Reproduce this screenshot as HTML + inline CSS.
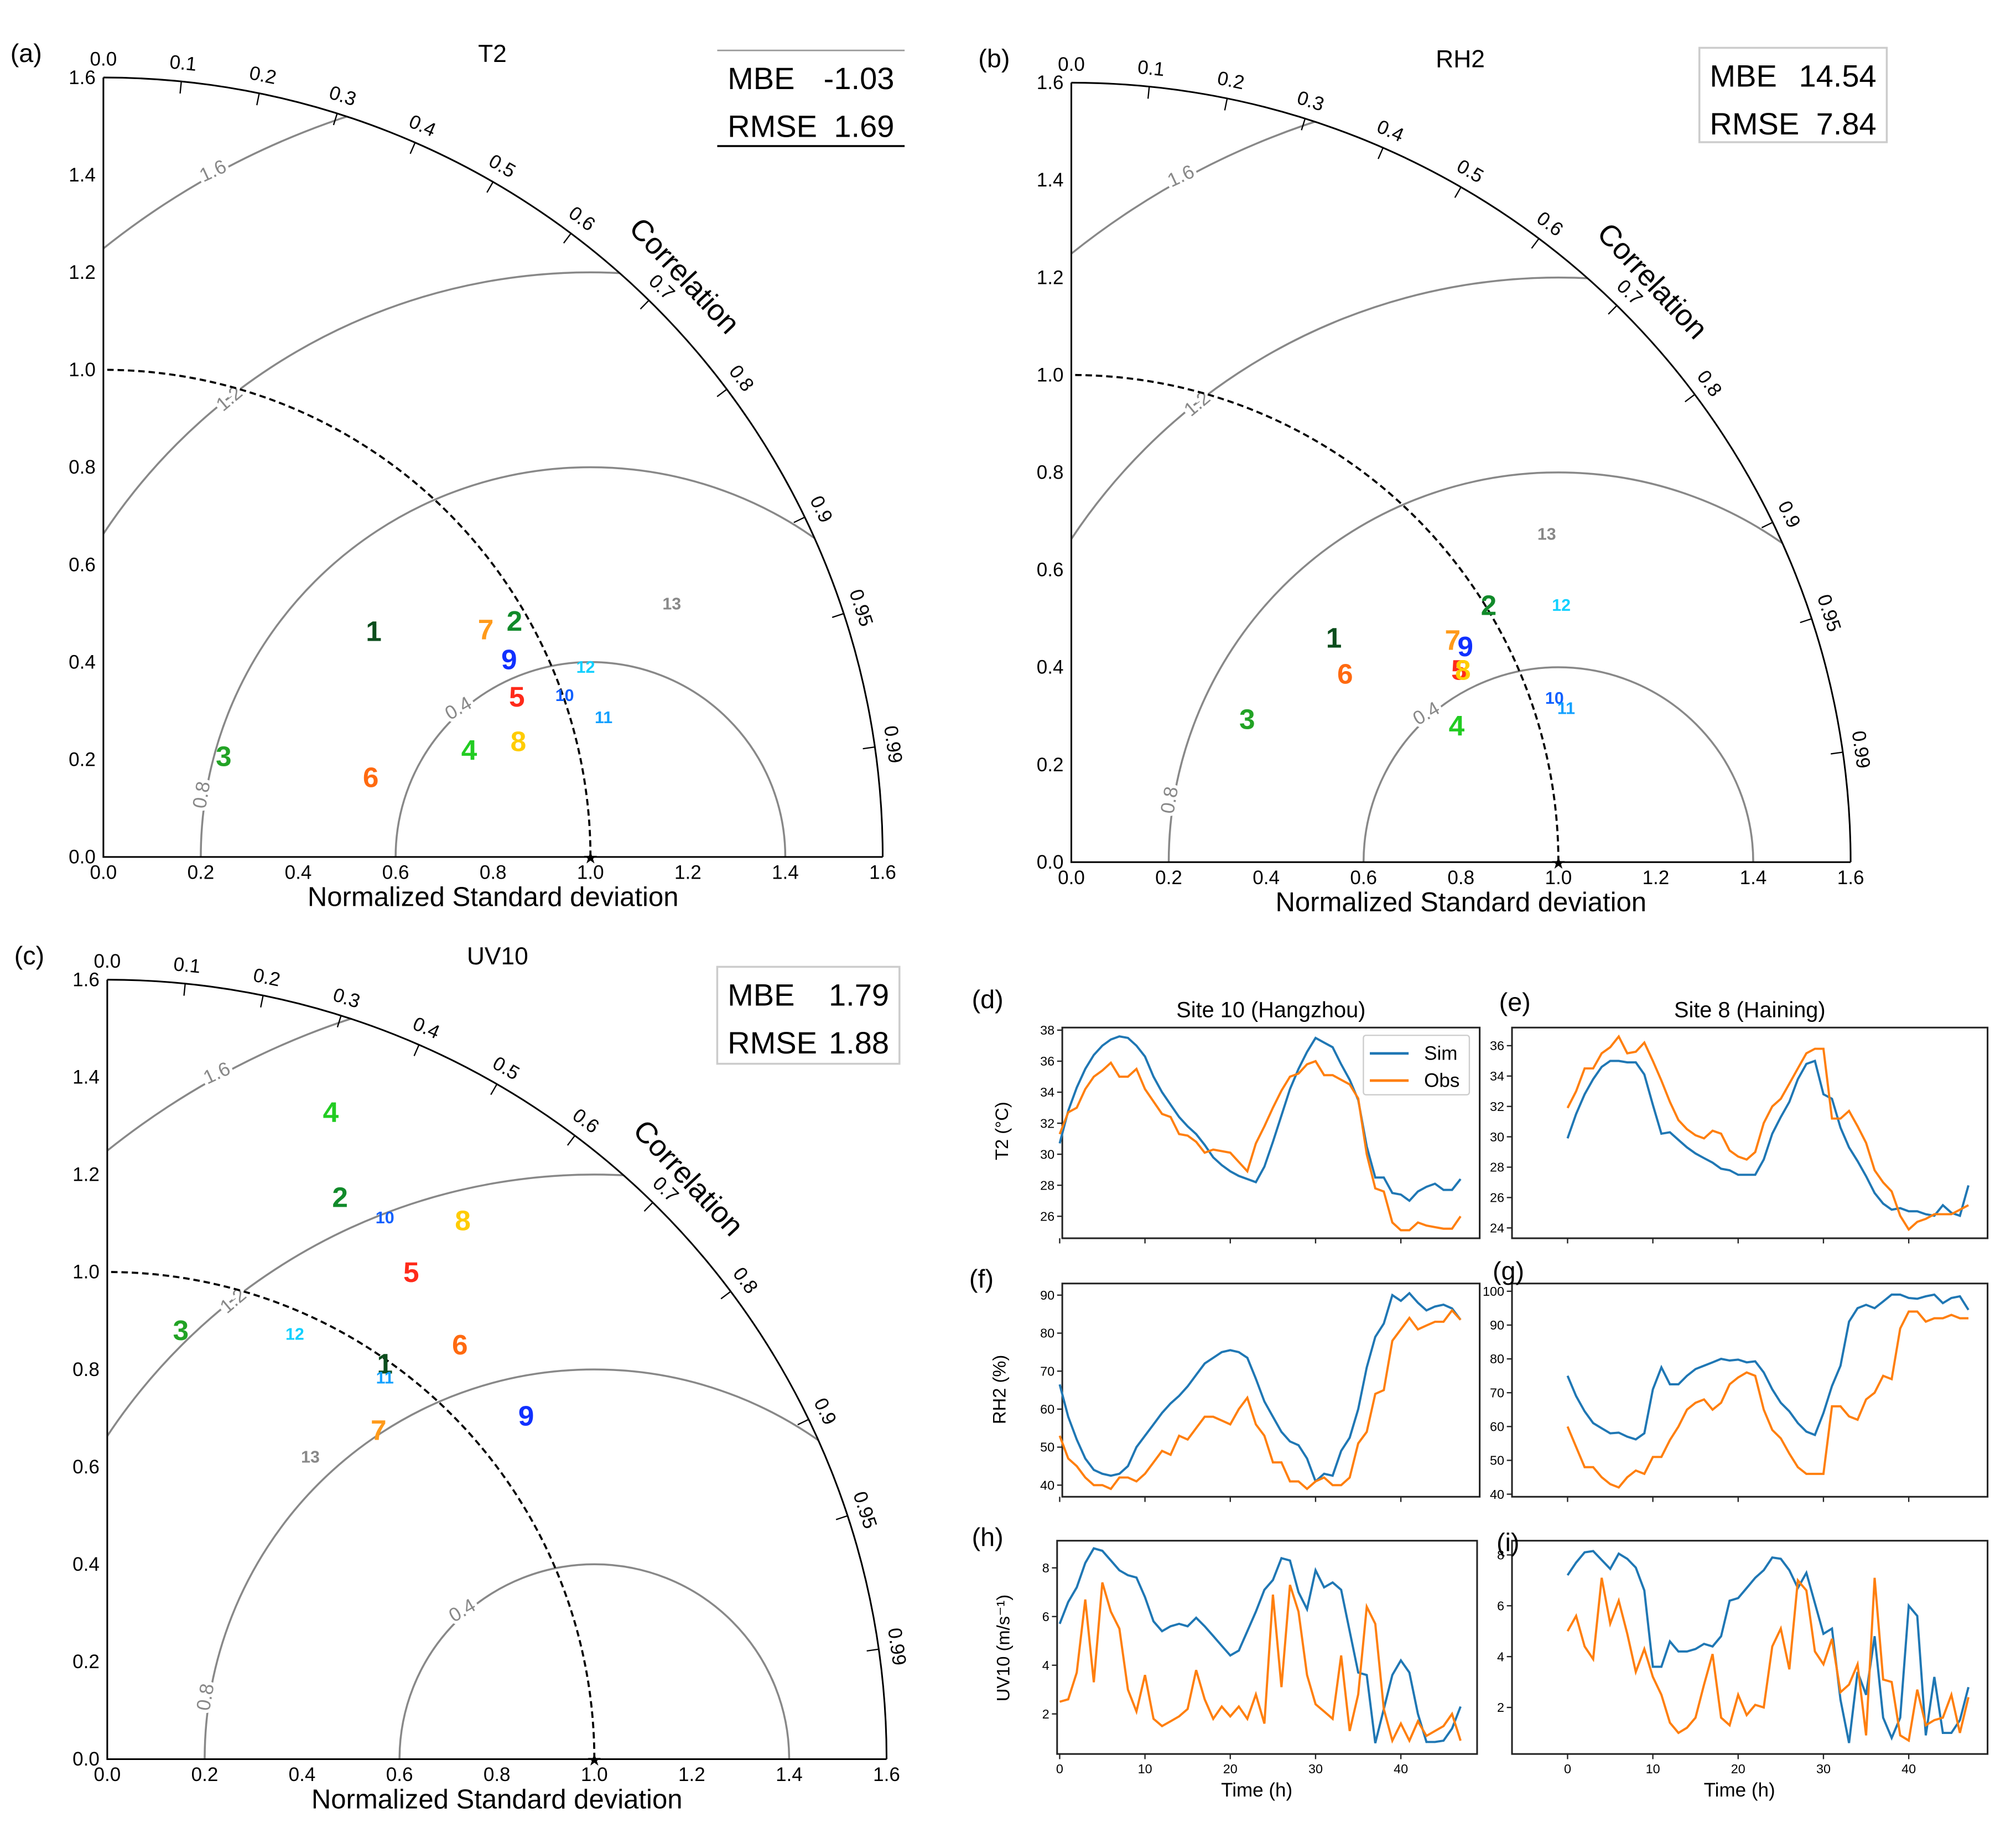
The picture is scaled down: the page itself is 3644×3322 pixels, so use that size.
<!DOCTYPE html>
<html><head><meta charset="utf-8">
<style>
html,body{margin:0;padding:0;background:#fff;overflow:hidden;width:3644px;height:3322px;}
svg{display:block;font-family:"Liberation Sans",sans-serif;}
</style></head>
<body>
<svg id="fig" width="3644" height="3322" viewBox="0 0 1560 1422" preserveAspectRatio="none" xmlns="http://www.w3.org/2000/svg">
<defs>
<clipPath id="qclip"><path d="M0,0 L603,0 A603,603 0 0 0 0,-603 Z"/></clipPath>
</defs>
</svg>
<script>
// ---------- Taylor diagram data ----------
const siteLabels = ['1','2','3','4','5','6','7','8','9','10','11','12','13'];
const siteColors = ['#0b4d1c','#118a2a','#22a325','#22cc22','#ff2a1a','#ff6a10','#ff9a1a','#ffcc00','#1030ff','#1060ff','#10a0ff','#10d0ff','#888888'];
const t2X = [0.555,0.844,0.247,0.751,0.849,0.549,0.785,0.852,0.833,0.947,1.027,0.990,1.167];
const t2Y = [0.459,0.480,0.202,0.215,0.324,0.159,0.462,0.233,0.401,0.329,0.284,0.387,0.517];
const rhX = [0.539,0.857,0.361,0.791,0.796,0.562,0.783,0.804,0.809,0.992,1.016,1.006,0.976];
const rhY = [0.456,0.523,0.289,0.276,0.390,0.382,0.451,0.390,0.438,0.334,0.313,0.525,0.671];
const uvX = [0.570,0.478,0.151,0.459,0.624,0.724,0.557,0.730,0.860,0.570,0.570,0.385,0.417];
const uvY = [0.807,1.149,0.876,1.324,0.995,0.846,0.671,1.101,0.700,1.109,0.780,0.870,0.618];
const stdTicks = [0.0,0.2,0.4,0.6,0.8,1.0,1.2,1.4,1.6];
const corrTicks = [0.0,0.1,0.2,0.3,0.4,0.5,0.6,0.7,0.8,0.9,0.95,0.99];
const rmseLevels = [0.4,0.8,1.2,1.6];
const t2Stats = ['-1.03','1.69'];
const rhStats = ['14.54','7.84'];
const uvStats = ['1.79','1.88'];

// ---------- Time series data ----------
const hours = Array.from({length:48},(_,i)=>i);
const hzT2Sim=[30.7,32.8,34.3,35.5,36.4,37.0,37.4,37.6,37.5,37.0,36.3,35.0,34.0,33.2,32.4,31.8,31.3,30.6,29.8,29.3,28.9,28.6,28.4,28.2,29.2,30.8,32.5,34.2,35.5,36.6,37.5,37.2,36.9,35.8,34.8,33.5,30.5,28.5,28.5,27.5,27.4,27.0,27.6,27.9,28.1,27.7,27.7,28.4];
const hzT2Obs=[31.3,32.7,33.0,34.2,35.0,35.4,35.9,35.0,35.0,35.5,34.2,33.4,32.6,32.4,31.3,31.2,30.8,30.1,30.3,30.2,30.1,29.5,28.9,30.7,31.8,33.0,34.1,35.0,35.2,35.8,36.0,35.1,35.1,34.8,34.5,33.6,30.0,27.8,27.6,25.6,25.1,25.1,25.6,25.4,25.3,25.2,25.2,26.0];
const hnT2Sim=[29.9,31.5,32.8,33.8,34.6,35.0,35.0,34.9,34.9,34.1,32.1,30.2,30.3,29.8,29.3,28.9,28.6,28.3,27.9,27.8,27.5,27.5,27.5,28.5,30.2,31.3,32.3,33.8,34.8,35.0,32.8,32.5,30.6,29.3,28.4,27.4,26.3,25.6,25.2,25.3,25.1,25.1,24.9,24.8,25.5,25.0,24.8,26.8];
const hnT2Obs=[31.9,33.0,34.5,34.5,35.5,35.9,36.6,35.5,35.6,36.2,35.0,33.7,32.3,31.1,30.5,30.1,29.9,30.4,30.2,29.1,28.7,28.5,29.0,30.9,32.0,32.5,33.5,34.5,35.5,35.8,35.8,31.2,31.2,31.7,30.7,29.6,27.8,27.0,26.4,24.8,23.9,24.4,24.6,24.9,24.9,24.9,25.2,25.5];
const hzRhSim=[66.5,58,52,47,44,43,42.5,43,45,50,53,56,59,61.5,63.5,66,69,72,73.5,75,75.5,75,73.5,68,62,58,54,51.5,50.5,47,41,43,42.5,49,52.5,60,71,79,82.5,90,88.5,90.5,88,86,87,87.5,86.5,83.5];
const hzRhObs=[53,47,45,42,40,40,39,42,42,41,43,46,49,48,53,52,55,58,58,57,56,60,63,56,53,46,46,41,41,39,41,42,40,40,42,51,54,64,65,78,81,84,81,82,83,83,86,83.5];
const hnRhSim=[75,69,64.5,61,59.5,58,58.2,57,56.2,58,71,77.5,72.5,72.5,75,77,78,79,80,79.5,79.8,79,79.3,76,71,67,64.5,61,58.5,57.5,64,72,78,91,95,96,95,97,99,99,98,97.8,98.5,99,96.5,98,98.5,94.5];
const hnRhObs=[60,54,48,48,45,43,42,45,47,46,51,51,56,60,65,67,68,65,67,72.5,74.5,76,75,65,59,56.5,52,48,46,46,46,66,66,63,62,68,70,75,74,89,94,94,91,92,92,93,92,92];
const hzUvSim=[5.7,6.6,7.2,8.2,8.8,8.7,8.3,7.9,7.7,7.6,6.8,5.8,5.4,5.6,5.7,5.6,5.95,5.6,5.2,4.8,4.4,4.6,5.4,6.2,7.1,7.5,8.4,8.3,7.0,6.3,7.9,7.2,7.4,7.1,5.4,3.7,3.6,0.8,2.2,3.6,4.2,3.7,2.0,0.85,0.85,0.9,1.4,2.3];
const hzUvObs=[2.5,2.6,3.7,6.7,3.3,7.4,6.2,5.5,3.0,2.1,3.6,1.8,1.5,1.7,1.9,2.2,3.8,2.6,1.8,2.3,1.9,2.3,1.8,2.8,1.6,6.9,3.1,7.3,6.2,3.6,2.4,2.1,1.8,4.4,1.3,2.8,6.4,5.7,2.2,0.9,1.6,0.9,1.7,1.1,1.3,1.5,2.0,0.9];
const hnUvSim=[7.2,7.7,8.1,8.15,7.8,7.45,8.05,7.85,7.5,6.6,3.6,3.6,4.6,4.2,4.2,4.3,4.5,4.4,4.8,6.2,6.3,6.7,7.1,7.4,7.9,7.85,7.4,6.7,7.3,6.1,4.9,5.1,2.3,0.6,3.4,2.5,4.8,1.6,0.8,1.6,6.0,5.6,0.9,3.2,1.0,1.0,1.5,2.8];
const hnUvObs=[5.0,5.6,4.4,3.9,7.1,5.3,6.2,4.9,3.4,4.3,3.2,2.5,1.4,1.0,1.2,1.6,2.9,4.1,1.6,1.3,2.5,1.7,2.1,2.0,4.4,5.1,3.5,7.0,6.6,4.2,3.7,4.7,2.6,2.9,3.7,0.9,7.1,3.1,3.0,0.9,0.7,2.7,1.3,1.5,1.6,2.5,1.0,2.4];
const xTicks=[0,10,20,30,40];
const t2TicksL=[26,28,30,32,34,36,38];
const t2TicksR=[24,26,28,30,32,34,36];
const rhTicksL=[40,50,60,70,80,90];
const rhTicksR=[40,50,60,70,80,90,100];
const uvTicks=[2,4,6,8];

const NS='http://www.w3.org/2000/svg';
const svg=document.getElementById('fig');
function mk(tag,attrs,parent){const e=document.createElementNS(NS,tag);for(const k in attrs)e.setAttribute(k,attrs[k]);(parent||svg).appendChild(e);return e;}
function txt(s,attrs,parent){const e=mk('text',attrs,parent);e.textContent=s;return e;}

// ---------- Taylor panel ----------
function taylor(ox,oy,letter,title,titleX,xs,ys,pname){
  const U=376.9;
  const g=mk('g',{transform:`translate(${ox},${oy})`});
  
  
  const sx=v=>v*U, sy=v=>-v*U;
  const cg=mk('g',{'clip-path':'url(#qclip)'},g);
  rmseLevels.forEach(r=>{
    const c=mk('circle',{cx:sx(1),cy:0,r:r*U,fill:'none',stroke:'#888',"stroke-width":1.5},cg);
    
    
  });
  const rl=[[0.226,1.406,-25,'1.6'],[0.260,0.939,-40,'1.2'],[0.204,0.127,-80,'0.8'],[0.730,0.303,-30,'0.4']];
  rl.forEach(a=>{
    const t=txt(a[3],{x:sx(a[0]),y:sy(a[1]),fill:'#888','font-size':15,'text-anchor':'middle','dominant-baseline':'middle',stroke:'#fff','stroke-width':5,'paint-order':'stroke',transform:`rotate(${a[2]} ${sx(a[0])} ${sy(a[1])})`},g);
    
    
  });
  const oa=mk('path',{d:`M${sx(1.6)},0 A${1.6*U},${1.6*U} 0 0 0 0,${sy(1.6)}`,fill:'none',stroke:'#000','stroke-width':1.3},g);
  
  
  const ra=mk('path',{d:`M${sx(1)},0 A${U},${U} 0 0 0 0,${sy(1)}`,fill:'none',stroke:'#000','stroke-width':1.6,'stroke-dasharray':'5,3'},g);
  
  
  const ax=mk('path',{d:`M0,${sy(1.6)} L0,0 L${sx(1.6)},0`,fill:'none',stroke:'#000','stroke-width':1.3},g);
  
  
  stdTicks.forEach(v=>{
    const a=txt(v.toFixed(1),{x:-6,y:sy(v)+5,'text-anchor':'end','font-size':15},g);
    
    
    const b=txt(v.toFixed(1),{x:sx(v),y:17,'text-anchor':'middle','font-size':15},g);
    
    
  });
  corrTicks.forEach(c=>{
    const th=Math.acos(c);
    const x1=Math.cos(th)*1.6*U,y1=-Math.sin(th)*1.6*U,x2=Math.cos(th)*1.575*U,y2=-Math.sin(th)*1.575*U;
    const tk=mk('line',{x1,y1,x2,y2,stroke:'#000','stroke-width':1},g);
    
    
    const lx=Math.cos(th)*1.635*U,ly=-Math.sin(th)*1.635*U;
    const rot=90-th*180/Math.PI;
    const lab=c===0?'0.0':String(c);
    const t=txt(lab,{x:lx,y:ly,'font-size':15,'text-anchor':'middle','dominant-baseline':'middle',transform:`rotate(${rot} ${lx} ${ly})`},g);
    
    
  });
  const cl=txt('Correlation',{x:sx(1.19),y:sy(1.19),'font-size':23,'text-anchor':'middle','dominant-baseline':'middle',transform:`rotate(47 ${sx(1.19)} ${sy(1.19)})`},g);
  
  
  const xt=txt('Normalized Standard deviation',{x:sx(0.8),y:38,'font-size':21,'text-anchor':'middle'},g);
  
  
  const st=txt('★',{x:sx(1),y:5,'font-size':13,'text-anchor':'middle'},g);
  
  
  xs.forEach((v,i)=>{
    const big=i<9;
    const p=txt(siteLabels[i],{x:sx(v),y:sy(ys[i]),fill:siteColors[i],'font-size':big?22:13,'font-weight':'bold','text-anchor':'middle','dominant-baseline':'middle'},g);
    
    
  });
  const tt=txt(title,{x:titleX-ox,y:-615,'font-size':19,'text-anchor':'middle'},g);
  
  
  const lt=txt(letter,{x:-72,y:-615,'font-size':20},g);
  
  
  return g;
}
taylor(80,663,'(a)','T2',381,t2X,t2Y,'taylor-t2');
taylor(829,667,'(b)','RH2',1130,rhX,rhY,'taylor-rh2');
taylor(83,1361,'(c)','UV10',385,uvX,uvY,'taylor-uv10');

function statBox(x,y,w,h,stats,style,name){
  const g=mk('g',{});
  
  
  if(style==='box'){
    const r=mk('rect',{x,y,width:w,height:h,fill:'#fff',stroke:'#ccc','stroke-width':1.5},g);
    
    
  }else{
    const l1=mk('line',{x1:x,y1:y,x2:x+w,y2:y,stroke:'#999','stroke-width':1.2},g);
    
    
    const l2=mk('line',{x1:x,y1:y+h,x2:x+w,y2:y+h,stroke:'#000','stroke-width':1.5},g);
    
    
  }
  const a=txt('MBE',{x:x+8,y:y+30,'font-size':24},g);
  
  
  const b=txt(stats[0],{x:x+w-8,y:y+30,'font-size':24,'text-anchor':'end'},g);
  
  
  const c=txt('RMSE',{x:x+8,y:y+67,'font-size':24},g);
  
  
  const d=txt(stats[1],{x:x+w-8,y:y+67,'font-size':24,'text-anchor':'end'},g);
  
  
}
statBox(555,39,145,74,t2Stats,'lines','stats-t2');
statBox(1315,37,145,73,rhStats,'box','stats-rh2');
statBox(555,748,141,75,uvStats,'box','stats-uv10');

function linePanel(o){
  const g=mk('g',{});
  
  
  const xs=t=>o.x0+t*6.6;
  const ys=v=>o.yA+(v-o.vA)*(o.yB-o.yA)/(o.vB-o.vA);
  const fr=mk('rect',{x:o.L,y:o.T,width:o.R-o.L,height:o.B-o.T,fill:'none',stroke:'#222','stroke-width':1.3},g);
  
  
  o.yt.forEach(v=>{
    const tk=mk('line',{x1:o.L-4,x2:o.L,y1:ys(v),y2:ys(v),stroke:'#222'},g);
    
    
    const t=txt(String(v),{x:o.L-6,y:ys(v)+3.5,'font-size':10,'text-anchor':'end'},g);
    
    
  });
  xTicks.forEach(v=>{
    const tk=mk('line',{x1:xs(v),x2:xs(v),y1:o.B,y2:o.B+4,stroke:'#222'},g);
    
    
    if(o.xl){
      const t=txt(String(v),{x:xs(v),y:o.B+15,'font-size':10,'text-anchor':'middle'},g);
      
      
    }
  });
  const ps=hours.map(h=>xs(h).toFixed(1)+','+ys(o.sim[h]).toFixed(1)).join(' ');
  const po=hours.map(h=>xs(h).toFixed(1)+','+ys(o.obs[h]).toFixed(1)).join(' ');
  const ls=mk('polyline',{points:ps,fill:'none',stroke:'#1f77b4','stroke-width':1.7},g);
  
  
  const lo=mk('polyline',{points:po,fill:'none',stroke:'#ff7f0e','stroke-width':1.7},g);
  
  
  const lt=txt(o.letter,{x:o.lx,y:o.ly,'font-size':20},g);
  
  
  if(o.ytitle){
    const yt=txt(o.ytitle,{x:o.ytx,y:o.yty,'font-size':14,'text-anchor':'middle',transform:`rotate(-90 ${o.ytx} ${o.yty})`},g);
    
    
  }
  if(o.title){
    const tt=txt(o.title,{x:(o.L+o.R)/2,y:o.T-8,'font-size':17,'text-anchor':'middle'},g);
    
    
  }
  if(o.xl){
    const xt=txt('Time (h)',{x:(o.L+o.R)/2-8,y:o.B+33,'font-size':15,'text-anchor':'middle'},g);
    
    
  }
  return g;
}
linePanel({name:'t2-hangzhou',L:822,R:1145,T:795,B:958,x0:820,yA:797,vA:38,yB:941,vB:26,yt:t2TicksL,sim:hzT2Sim,obs:hzT2Obs,letter:'(d)',lx:752,ly:780,ytitle:'T2 (°C)',ytx:780,yty:875,title:'Site 10 (Hangzhou)'});
linePanel({name:'t2-haining',L:1170,R:1538,T:795,B:958,x0:1213,yA:809,vA:36,yB:950,vB:24,yt:t2TicksR,sim:hnT2Sim,obs:hnT2Obs,letter:'(e)',lx:1160,ly:782,title:'Site 8 (Haining)'});
linePanel({name:'rh2-hangzhou',L:822,R:1145,T:993,B:1158,x0:820,yA:1002,vA:90,yB:1149,vB:40,yt:rhTicksL,sim:hzRhSim,obs:hzRhObs,letter:'(f)',lx:750,ly:996,ytitle:'RH2 (%)',ytx:778,yty:1075});
linePanel({name:'rh2-haining',L:1170,R:1538,T:993,B:1158,x0:1213,yA:999,vA:100,yB:1156,vB:40,yt:rhTicksR,sim:hnRhSim,obs:hnRhObs,letter:'(g)',lx:1155,ly:990});
linePanel({name:'uv10-hangzhou',L:818,R:1143,T:1192,B:1357,x0:820,yA:1213,vA:8,yB:1326,vB:2,yt:uvTicks,sim:hzUvSim,obs:hzUvObs,letter:'(h)',lx:752,ly:1196,ytitle:'UV10 (m/s⁻¹)',ytx:781,yty:1275,xl:true});
linePanel({name:'uv10-haining',L:1170,R:1538,T:1192,B:1357,x0:1213,yA:1203,vA:8,yB:1321,vB:2,yt:uvTicks,sim:hnUvSim,obs:hnUvObs,letter:'(i)',lx:1158,ly:1200,xl:true});

const lg=mk('g',{});


const lr=mk('rect',{x:1055,y:801,width:82,height:46,fill:'#fff',stroke:'#ccc',rx:2},lg);


const l1=mk('line',{x1:1060,x2:1090,y1:815,y2:815,stroke:'#1f77b4','stroke-width':2},lg);


const t1=txt('Sim',{x:1102,y:820,'font-size':15},lg);


const l2=mk('line',{x1:1060,x2:1090,y1:836,y2:836,stroke:'#ff7f0e','stroke-width':2},lg);


const t2=txt('Obs',{x:1102,y:841,'font-size':15},lg);


</script>
</body></html>
